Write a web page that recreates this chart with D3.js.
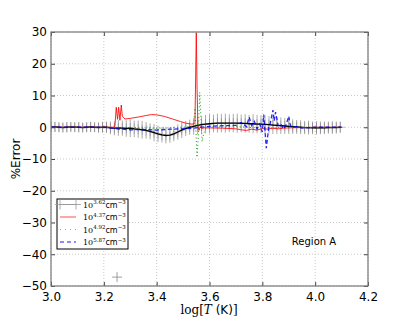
<!DOCTYPE html>
<html>
<head>
<meta charset="utf-8">
<script src="https://cdn.jsdelivr.net/npm/d3@7"></script>
<style>
  body { margin: 0; background: #fff; }
  svg { display: block; }
  text { font-family: "DejaVu Sans", sans-serif; }
</style>
</head>
<body>
<svg id="chart"></svg>
<script>
// black series with error bars (n = 10^3.62)
const blackX = [3.000, 3.015, 3.030, 3.045, 3.060, 3.075, 3.090, 3.105, 3.120, 3.135,
  3.150, 3.165, 3.180, 3.195, 3.210, 3.225, 3.240, 3.255, 3.270, 3.285,
  3.300, 3.315, 3.330, 3.345, 3.360, 3.375, 3.390, 3.405, 3.420, 3.435,
  3.450, 3.465, 3.480, 3.495, 3.510, 3.525, 3.540, 3.555, 3.570, 3.585,
  3.600, 3.615, 3.630, 3.645, 3.660, 3.675, 3.690, 3.705, 3.720, 3.735,
  3.750, 3.765, 3.780, 3.795, 3.810, 3.825, 3.840, 3.855, 3.870, 3.885,
  3.900, 3.915, 3.930, 3.945, 3.960, 3.975, 3.990, 4.005, 4.020, 4.035,
  4.050, 4.065, 4.080, 4.095];
const blackY = [0.0, 0.1, 0.0, -0.1, 0.0, 0.1, 0.0, 0.0, -0.1, 0.0,
  0.1, 0.0, -0.1, 0.0, 0.0, -0.2, -0.3, -0.2, -0.3, -0.4,
  -0.3, -0.5, -0.6, -0.8, -1.0, -1.3, -1.7, -2.1, -2.4, -2.6,
  -2.5, -2.1, -1.5, -0.9, -0.4, 0.0, 0.3, 0.6, 0.8, 1.0,
  1.1, 1.2, 1.3, 1.3, 1.3, 1.3, 1.3, 1.3, 1.2, 1.2,
  1.1, 1.1, 1.0, 1.0, 0.9, 0.8, 0.7, 0.6, 0.5, 0.4,
  0.3, 0.2, 0.1, 0.0, -0.1, -0.1, -0.2, -0.2, -0.2, -0.2,
  -0.1, -0.1, -0.1, 0.0];
const blackErr = [1.5, 1.6, 1.5, 1.5, 1.6, 1.5, 1.5, 1.6, 1.5, 1.5,
  1.6, 1.5, 1.6, 1.7, 1.8, 2.0, 2.2, 2.5, 2.4, 2.6,
  2.8, 2.6, 2.7, 2.8, 2.6, 2.5, 2.7, 2.6, 2.4, 2.5,
  2.4, 2.3, 2.4, 2.5, 2.4, 2.4, 2.6, 2.8, 2.7, 2.9,
  3.0, 2.8, 3.0, 2.9, 3.0, 2.8, 2.9, 3.0, 2.8, 2.9,
  2.8, 3.0, 2.9, 2.8, 2.9, 2.7, 2.8, 2.7, 2.6, 2.5,
  2.4, 2.3, 2.2, 2.2, 2.1, 2.2, 2.0, 2.1, 2.0, 2.0,
  1.9, 2.0, 1.9, 1.8];
const loneX = [3.25];
const loneY = [-47.2];

// red solid (n = 10^4.37)
const redX = [3.00, 3.05, 3.10, 3.15, 3.20, 3.235, 3.242, 3.247, 3.252, 3.256,
  3.261, 3.266, 3.270, 3.28, 3.30, 3.33, 3.36, 3.38, 3.40, 3.43,
  3.46, 3.49, 3.51, 3.53, 3.54, 3.545, 3.550, 3.553, 3.556, 3.560,
  3.565, 3.570, 3.58, 3.60, 3.65, 3.70, 3.72, 3.74, 3.76, 3.78,
  3.80, 3.82, 3.84, 3.86, 3.88, 3.90, 3.95, 4.00, 4.05, 4.10];
const redY = [0, 0, 0, 0, 0, 0, 0.3, 6.3, 2.5, 6.3,
  2.2, 7.0, 3.5, 2.6, 2.8, 3.2, 3.7, 4.0, 3.9, 3.4,
  2.6, 1.8, 1.3, 1.0, 1.0, 1.5, 29.8, 12.0, 0.5, -1.0,
  0.2, -0.4, -0.2, -0.2, -0.3, -0.5, -0.8, -1.0, -0.6, -0.9,
  -0.4, -0.6, -0.3, -0.5, -0.3, -0.2, -0.1, 0, 0, 0];

// green dotted (n = 10^4.92)
const greenX = [3.00, 3.20, 3.40, 3.50, 3.53, 3.540, 3.545, 3.550, 3.553, 3.558,
  3.563, 3.567, 3.572, 3.578, 3.585, 3.60, 3.70, 3.80, 3.90, 4.00, 4.10];
const greenY = [0, 0, -0.3, 0, 0.2, 1.0, 6.0, -4.0, -9.5, -2.0,
  11.0, 4.0, -4.5, -2.0, -0.5, 0, 0.2, -0.3, 0, 0, 0];

// blue dashed (n = 10^5.87)
const blueX = [3.00, 3.10, 3.20, 3.25, 3.30, 3.35, 3.40, 3.45, 3.50, 3.55,
  3.60, 3.65, 3.70, 3.72, 3.74, 3.75, 3.76, 3.77, 3.78, 3.79,
  3.80, 3.805, 3.81, 3.815, 3.82, 3.825, 3.83, 3.84, 3.845, 3.85,
  3.86, 3.87, 3.88, 3.89, 3.90, 3.905, 3.91, 3.93, 3.95, 4.00,
  4.05, 4.10];
const blueY = [0, 0, 0, -0.5, -0.8, -0.7, -0.9, -0.6, -0.5, -0.2,
  0.3, 0.5, 0.6, 1.5, 0.2, 3.2, 0.5, 1.8, -0.5, 1.0,
  -1.5, 4.0, -1.0, -6.6, -3.0, 0.5, 1.2, 5.4, 2.0, 4.8,
  0.5, 1.0, -0.5, 0.8, 3.5, 1.0, 0.0, 0.2, -0.3, 0,
  0, 0];

const xTicks = [3.0, 3.2, 3.4, 3.6, 3.8, 4.0, 4.2];
const yTicks = [-50, -40, -30, -20, -10, 0, 10, 20, 30];
const legendLabels = [["3.62"], ["4.37"], ["4.92"], ["5.87"]];

const W = 409, H = 319;
const m = { left: 51, right: 368, top: 32, bottom: 286 };

const svg = d3.select("#chart").attr("width", W).attr("height", H);

const x = d3.scaleLinear().domain([3.0, 4.2]).range([m.left, m.right]);
const y = d3.scaleLinear().domain([-50, 30]).range([m.bottom, m.top]);

// grid
const grid = svg.append("g");
grid.selectAll(".gx").data(xTicks).enter().append("line")
  .attr("x1", d => x(d)).attr("x2", d => x(d))
  .attr("y1", m.top).attr("y2", m.bottom)
  .attr("stroke", "#bbb").attr("stroke-width", 0.8).attr("stroke-dasharray", "1,2");
grid.selectAll(".gy").data(yTicks).enter().append("line")
  .attr("x1", m.left).attr("x2", m.right)
  .attr("y1", d => y(d)).attr("y2", d => y(d))
  .attr("stroke", "#bbb").attr("stroke-width", 0.8).attr("stroke-dasharray", "1,2");

const clip = svg.append("clipPath").attr("id", "clip").append("rect")
  .attr("x", m.left).attr("y", m.top).attr("width", m.right - m.left).attr("height", m.bottom - m.top);
const plot = svg.append("g").attr("clip-path", "url(#clip)");

const blackData = blackX.map((d, i) => ({ x: d, y: blackY[i], e: blackErr[i] }));

// error bars
plot.selectAll(".err").data(blackData).enter().append("line")
  .attr("x1", d => x(d.x)).attr("x2", d => x(d.x))
  .attr("y1", d => y(d.y - d.e)).attr("y2", d => y(d.y + d.e))
  .attr("stroke", "#888").attr("stroke-opacity", 0.7).attr("stroke-width", 1);

// plus markers
function plus(g, data, color) {
  g.selectAll(null).data(data).enter().append("path")
    .attr("d", d => `M${x(d.x) - 5},${y(d.y)}H${x(d.x) + 5}M${x(d.x)},${y(d.y) - 5}V${y(d.y) + 5}`)
    .attr("stroke", color).attr("stroke-width", 0.8).attr("fill", "none");
}
plus(plot.append("g").attr("opacity", 0.4), blackData, "#555");
plus(plot.append("g"), loneX.map((d, i) => ({ x: d, y: loneY[i] })), "#888");

const line = d3.line().x(d => x(d[0])).y(d => y(d[1]));

plot.append("path").datum(blackX.map((d, i) => [d, blackY[i]]))
  .attr("d", line).attr("fill", "none").attr("stroke", "#000").attr("stroke-width", 1.3);

plot.append("path").datum(redX.map((d, i) => [d, redY[i]]))
  .attr("d", line).attr("fill", "none").attr("stroke", "#f00").attr("stroke-opacity", 0.85).attr("stroke-width", 1);

plot.append("path").datum(greenX.map((d, i) => [d, greenY[i]]))
  .attr("d", line).attr("fill", "none").attr("stroke", "#1a9a1a").attr("stroke-width", 1)
  .attr("stroke-dasharray", "1,2.5");

plot.append("path").datum(blueX.map((d, i) => [d, blueY[i]]))
  .attr("d", line).attr("fill", "none").attr("stroke", "#00f").attr("stroke-opacity", 0.85).attr("stroke-width", 1.3)
  .attr("stroke-dasharray", "4,2.5");

// axes
const xAxis = svg.append("g").attr("transform", `translate(0,${m.bottom})`)
  .call(d3.axisBottom(x).tickValues(xTicks).tickFormat(d3.format(".1f")).tickSizeInner(-4).tickSizeOuter(0).tickPadding(6));
const yAxis = svg.append("g").attr("transform", `translate(${m.left},0)`)
  .call(d3.axisLeft(y).tickValues(yTicks).tickFormat(d => d < 0 ? "\u2212" + Math.abs(d) : d).tickSizeInner(-4).tickSizeOuter(0).tickPadding(4));
[xAxis, yAxis].forEach(a => {
  a.select(".domain").remove();
  a.selectAll(".tick line").attr("stroke", "#444");
  a.selectAll("text").attr("font-size", 12).attr("fill", "#000").attr("font-family", "DejaVu Sans, sans-serif");
});
// top/right ticks
svg.append("g").attr("transform", `translate(0,${m.top})`)
  .call(d3.axisTop(x).tickValues(xTicks).tickFormat("").tickSizeInner(-4).tickSizeOuter(0))
  .call(g => { g.select(".domain").remove(); g.selectAll("line").attr("stroke", "#444"); });
svg.append("g").attr("transform", `translate(${m.right},0)`)
  .call(d3.axisRight(y).tickValues(yTicks).tickFormat("").tickSizeInner(-4).tickSizeOuter(0))
  .call(g => { g.select(".domain").remove(); g.selectAll("line").attr("stroke", "#444"); });

// frame
svg.append("rect").attr("x", m.left).attr("y", m.top)
  .attr("width", m.right - m.left).attr("height", m.bottom - m.top)
  .attr("fill", "none").attr("stroke", "#777").attr("stroke-width", 1.2);

// axis titles
const xl = svg.append("text").attr("x", 209).attr("y", 314).attr("text-anchor", "middle").attr("font-size", 12);
xl.append("tspan").attr("font-family", "DejaVu Serif, serif").text("log[");
xl.append("tspan").attr("font-family", "DejaVu Serif, serif").attr("font-style", "italic").text("T");
xl.append("tspan").text(" (K)");
xl.append("tspan").attr("font-family", "DejaVu Serif, serif").text("]");

svg.append("text").attr("transform", "translate(20,159) rotate(-90)")
  .attr("text-anchor", "middle").attr("font-size", 12).text("%Error");

svg.append("text").attr("x", 314).attr("y", 245).attr("text-anchor", "middle")
  .attr("font-size", 10).text("Region A");

// legend
const lg = svg.append("g");
lg.append("rect").attr("x", 57).attr("y", 199).attr("width", 71).attr("height", 50)
  .attr("fill", "#fff").attr("stroke", "#000").attr("stroke-width", 1);
const rowsY = [204.5, 217, 229.5, 242];
// row handles
lg.append("line").attr("x1", 60).attr("x2", 76).attr("y1", rowsY[0]).attr("y2", rowsY[0]).attr("stroke", "#999");
[60, 76].forEach(px => lg.append("path")
  .attr("d", `M${px - 5},${rowsY[0]}H${px + 5}M${px},${rowsY[0] - 5}V${rowsY[0] + 5}`)
  .attr("stroke", "#999").attr("stroke-width", 0.8));
lg.append("line").attr("x1", 60).attr("x2", 76).attr("y1", rowsY[1]).attr("y2", rowsY[1])
  .attr("stroke", "#f88").attr("stroke-width", 1.5);
lg.append("line").attr("x1", 60).attr("x2", 76).attr("y1", rowsY[2]).attr("y2", rowsY[2])
  .attr("stroke", "#6c6").attr("stroke-width", 1).attr("stroke-dasharray", "1,4");
lg.append("line").attr("x1", 60).attr("x2", 76).attr("y1", rowsY[3]).attr("y2", rowsY[3])
  .attr("stroke", "#66f").attr("stroke-width", 1.3).attr("stroke-dasharray", "4,3");

legendLabels.forEach((lab, i) => {
  const t = lg.append("text").attr("x", 83).attr("y", rowsY[i] + 3).attr("font-size", 8);
  t.append("tspan").attr("font-family", "DejaVu Serif, serif").text("10");
  t.append("tspan").attr("font-size", 5.5).attr("dy", -3.5).attr("font-family", "DejaVu Serif, serif").text(lab[0]);
  t.append("tspan").attr("dy", 3.5).text("cm");
  t.append("tspan").attr("font-size", 5.5).attr("dy", -3.5).text("\u22123");
});
</script>
</body>
</html>
